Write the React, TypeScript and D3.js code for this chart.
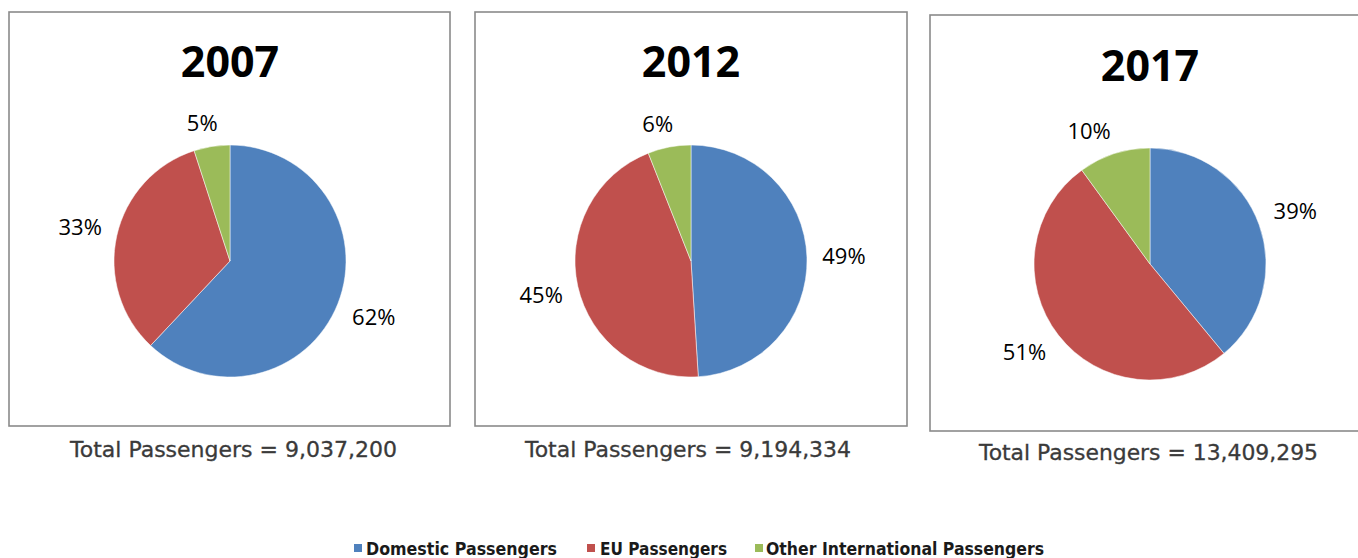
import React from "react";
import * as d3 from "d3";

const years = ["2007", "2012", "2017"];
const categories = ["Domestic Passengers", "EU Passengers", "Other International Passengers"];
const domestic = [62, 49, 39];
const eu = [33, 45, 51];
const other = [5, 6, 10];
const totals = [9037200, 9194334, 13409295];

const colors = ["#4F81BD", "#C0504D", "#9BBB59"];

// layout of each panel (box + pie centre)
const panels = [
  { x: 9, y: 12, w: 441, h: 414, cx: 230, cy: 261, ty: 77, totY: 457, totX: 233.5 },
  { x: 475, y: 12, w: 432, h: 414, cx: 691, cy: 261, ty: 77, totY: 457, totX: 688 },
  { x: 930, y: 15, w: 440, h: 416, cx: 1150, cy: 264, ty: 81, totY: 460, totX: 1148.5 },
];
const R = 116;
const totalWidths = [327, 326, 339];

const legendItems = [
  { sx: 354, tx: 366, tw: 191 },
  { sx: 587, tx: 600, tw: 127 },
  { sx: 755, tx: 766, tw: 278 },
];

export default function App() {
  const pie = d3.pie<number>().sort(null).value((d) => d);
  const arc = d3.arc<d3.PieArcDatum<number>>().innerRadius(0).outerRadius(R);
  const fmt = d3.format(",");
  const labelFont = 22;
  const gap = 15;
  const K = 3;
  const clamp = (v: number) => Math.max(-1, Math.min(1, v));

  return (
    <svg
      width={1358}
      height={558}
      style={{ position: "absolute", left: 0, top: 0, background: "#fff" }}
    >
      {years.map((yr, i) => {
        const p = panels[i];
        const vals = [domestic[i], eu[i], other[i]];
        const arcs = pie(vals);
        return (
          <g key={yr}>
            <rect x={p.x} y={p.y} width={p.w} height={p.h} fill="#fff" stroke="#8a8a8a" strokeWidth={1.6} />
            <text
              x={p.cx}
              y={p.ty}
              textAnchor="middle"
              fontFamily="'Open Sans', sans-serif"
              fontWeight={700}
              fontSize={43}
              fill="#000"
            >
              {yr}
            </text>
            <g transform={`translate(${p.cx},${p.cy})`}>
              {arcs.map((a, j) => (
                <path key={j} d={arc(a) || ""} fill={colors[j]} stroke="#fff" strokeWidth={0.5} />
              ))}
              {arcs.map((a, j) => {
                const mid = (a.startAngle + a.endAngle) / 2;
                const s = Math.sin(mid);
                const c = -Math.cos(mid);
                const label = `${vals[j]}%`;
                const hw = (label.length === 2 ? 31 : 44) / 2;
                const hh = 8;
                const d = R + gap;
                const x = s * d + hw * clamp(s * K);
                const y = c * d + hh * clamp(c * K);
                return (
                  <text
                    key={"l" + j}
                    x={x}
                    y={y}
                    dy="0.35em"
                    textAnchor="middle"
                    fontFamily="'Open Sans', sans-serif"
                    fontSize={labelFont}
                    fill="#000"
                  >
                    {label}
                  </text>
                );
              })}
            </g>
            <text
              x={p.totX}
              y={p.totY}
              textAnchor="middle"
              fontFamily="'DejaVu Sans', sans-serif"
              fontSize={21}
              fill="#3a3a3a"
              stroke="#3a3a3a"
              strokeWidth={0.3}
              textLength={totalWidths[i]}
              lengthAdjust="spacingAndGlyphs"
            >
              {`Total Passengers = ${fmt(totals[i])}`}
            </text>
          </g>
        );
      })}
      {categories.map((c, j) => (
        <g key={c}>
          <rect x={legendItems[j].sx} y={544} width={8} height={8} fill={colors[j]} />
          <text
            x={legendItems[j].tx}
            y={555}
            fontFamily="'DejaVu Sans', sans-serif"
            fontWeight={700}
            fontSize={18}
            fill="#1a1a1a"
            textLength={legendItems[j].tw}
            lengthAdjust="spacingAndGlyphs"
          >
            {c}
          </text>
        </g>
      ))}
    </svg>
  );
}
